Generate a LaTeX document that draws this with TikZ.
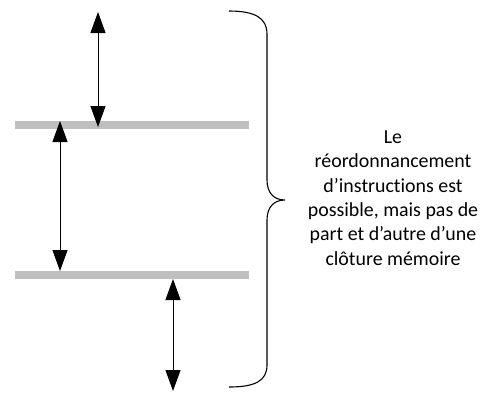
\documentclass[tikz,border=0pt]{standalone}
\usepackage{fontspec}
\setmainfont[Ligatures=NoCommon]{Carlito}
\usetikzlibrary{arrows.meta}
\begin{document}
\begin{tikzpicture}[x=1pt,y=-1pt,
  bar/.style={fill=black!25, draw=none, minimum width=234pt, minimum height=8pt, inner sep=0pt, rectangle},
  dbl/.style={line width=1pt, {Triangle[length=21pt,width=15pt]}-{Triangle[length=21pt,width=15pt]}},
  brace/.style={line width=1.1pt},
  lbl/.style={align=center, font=\fontsize{19.9}{24.3}\selectfont, inner sep=0pt}]
\useasboundingbox (0,0) rectangle (487,392);
\node[bar] (barA) at (132,125) {};
\node[bar] (barB) at (132,275) {};
\coordinate (a1top) at (98,12);
\coordinate (a1bot) at (98,127);
\coordinate (a2top) at (60,121);
\coordinate (a2bot) at (60,271);
\coordinate (a3top) at (173,279);
\coordinate (a3bot) at (173,391);
\draw[dbl] (a1top) -- (a1bot);
\draw[dbl] (a2top) -- (a2bot);
\draw[dbl] (a3top) -- (a3bot);
\coordinate (bt) at (229,11);
\coordinate (btip) at (285,200);
\coordinate (bb) at (229,387);
\draw[brace] (bt) .. controls (255,11) and (267,18) .. (267,34)
  -- (267,180) .. controls (267,193) and (274,200) .. (btip)
  .. controls (274,200) and (267,207) .. (267,220)
  -- (267,365) .. controls (267,381) and (255,387) .. (bb);
\node[lbl] (txt) at (393,198) {Le\\réordonnancement\\d’instructions est\\possible, mais pas de\\part et d’autre d’une\\clôture mémoire};
\end{tikzpicture}
\end{document}
